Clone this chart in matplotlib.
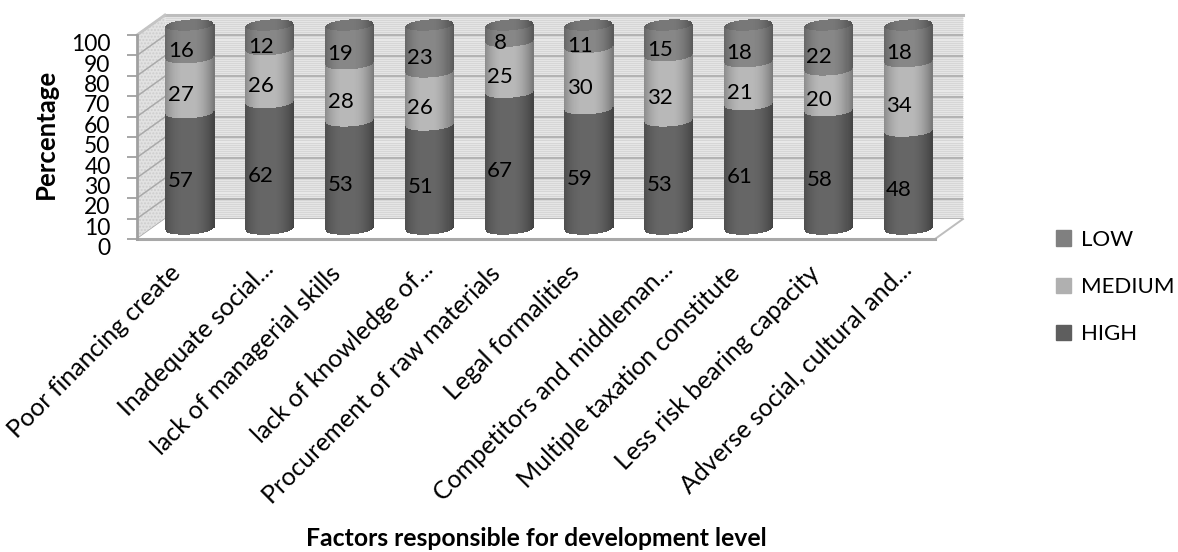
import numpy as np
import matplotlib
matplotlib.use("Agg")
import matplotlib.pyplot as plt
from matplotlib.patches import Patch, Polygon
from matplotlib.transforms import ScaledTranslation

plt.rcParams['font.family'] = ['Lato', 'DejaVu Sans']

categories = ["Poor financing create", "Inadequate social...", "lack of managerial skills",
              "lack of knowledge of...", "Procurement of raw materials", "Legal formalities",
              "Competitors and middleman...", "Multiple taxation constitute",
              "Less risk bearing capacity", "Adverse social, cultural and..."]
high = [57, 62, 53, 51, 67, 59, 53, 61, 58, 48]
medium = [27, 26, 28, 26, 25, 30, 32, 21, 20, 34]
low = [16, 12, 19, 23, 8, 11, 15, 18, 22, 18]
y_ticks = [0, 10, 20, 30, 40, 50, 60, 70, 80, 90, 100]

W, H = 1178, 552
fig = plt.figure(figsize=(W / 100, H / 100), dpi=100)
# axes box is the front plane of the 3D-looking chart
ax = fig.add_axes([137 / W, (H - 239) / H, (935 - 137) / W, (239 - 35) / H])
ax.set_xlim(-0.5, 9.5)
ax.set_ylim(0, 100)
ax.patch.set_alpha(0)
for s in ax.spines.values():
    s.set_visible(False)

# depth of the box, in axis units
dx = 0.35
dy = 9.8
x0, x1 = -0.5, 9.5

# back wall: fine stripes and gridlines
ax.add_patch(Polygon([(x0 + dx, dy), (x1 + dx, dy), (x1 + dx, 100 + dy), (x0 + dx, 100 + dy)],
                     fc='#ebebeb', ec='none', clip_on=False, zorder=1))
ax.hlines(np.arange(0.5, 100, 1.0) + dy, x0 + dx, x1 + dx, color='#d6d6d6', lw=0.9,
          clip_on=False, zorder=1.1)
ax.hlines(np.array(y_ticks) + dy, x0 + dx, x1 + dx, color='#ababab', lw=1.2,
          clip_on=False, zorder=1.2)
ax.plot([x0 + dx, x1 + dx], [100 + dy, 100 + dy], color='#bdbdbd', lw=2.2, clip_on=False, zorder=1.3)

# left wall with dotted fill, floor in white
ax.add_patch(Polygon([(x0, 0), (x0 + dx, dy), (x0 + dx, 100 + dy), (x0, 100)],
                     fc='#e2e2e2', ec='#cdcdcd', hatch='.....', lw=0, clip_on=False, zorder=1.4))
for v in y_ticks:
    ax.plot([x0, x0 + dx], [v, v + dy], color='#a9a9a9', lw=1.1, clip_on=False, zorder=1.5)
ax.plot([x0, x0 + dx], [100, 100 + dy], color='#c4c4c4', lw=2, clip_on=False, zorder=1.5)
ax.add_patch(Polygon([(x0, 0), (x1, 0), (x1 + dx, dy), (x0 + dx, dy)],
                     fc='white', ec='none', clip_on=False, zorder=1.6))
ax.plot([x1, x1 + dx], [0, dy], color='#bdbdbd', lw=1.4, clip_on=False, zorder=1.7)
ax.plot([x0, x1], [0, 0], color='#a8a8a8', lw=2.2, clip_on=False, zorder=1.8)
ax.plot([x0, x0], [0, 100], color='#a0a0a0', lw=2, clip_on=False, zorder=1.8)

# cylinders are built from thin stacked bar strips so they take a round shading
n_strips = 48
half_w = 0.30
ell = 2.7
tilt = 0.7
u = np.linspace(-1, 1, n_strips)
arc = np.sqrt(1 - u ** 2)
shade = 0.72 + 0.30 * (1 - np.abs(u + 0.08) ** 2.2)
strip_w = 2 * half_w / (n_strips - 1) * 1.3


def strip_colors(level):
    return [(level * s, level * s, level * s) for s in np.clip(shade, 0, 1)]


series = [(np.array(high), 0.40), (np.array(medium), 0.72), (np.array(low), 0.53)]
bottoms = np.zeros(len(categories))
centre = dx / 2 - 0.012
for vals, level in series:
    cols = strip_colors(level)
    for i in range(len(categories)):
        lower = bottoms[i] + dy / 2 - ell * arc + tilt * u
        ax.bar(i + centre + u * half_w, np.full(n_strips, vals[i]), strip_w, bottom=lower,
               color=cols, lw=0, clip_on=False, zorder=3)
    bottoms = bottoms + vals

# top caps
cols = strip_colors(0.47)
for i in range(len(categories)):
    ax.bar(i + centre + u * half_w, 2 * ell * arc, strip_w,
           bottom=bottoms[i] + dy / 2 - ell * arc + tilt * u,
           color=cols, lw=0, clip_on=False, zorder=3.1)

# value labels sit on the front plane
bottoms = np.zeros(len(categories))
for vals, _ in series:
    for i, v in enumerate(vals):
        ax.text(i + 0.05, bottoms[i] + v / 2, str(v), ha='center', va='center',
                fontsize=16, color='black', zorder=5)
    bottoms = bottoms + vals

ax.set_yticks(y_ticks)
ax.set_xticks(range(len(categories)))
ax.set_xticklabels(categories, rotation=45, ha='right', rotation_mode='anchor', fontsize=18)
ax.tick_params(axis='x', length=0, pad=16)
ax.tick_params(axis='y', length=7, width=1.3, color='#a0a0a0', pad=12, labelsize=16.5)
shift = ScaledTranslation(0, -5.5 / 72, fig.dpi_scale_trans)
for lab in ax.get_yticklabels():
    lab.set_transform(lab.get_transform() + shift)

# truncated labels run a little further up and to the right than the full ones
for lab in ax.get_xticklabels():
    if lab.get_text().endswith("..."):
        nudge = ScaledTranslation(5 / 100, 4 / 100, fig.dpi_scale_trans)
    else:
        nudge = ScaledTranslation(-8 / 100, 0, fig.dpi_scale_trans)
    lab.set_transform(lab.get_transform() + nudge)

fig.text(46 / W, 1 - 134 / H, "Percentage", rotation=90, fontweight='bold', fontsize=18.5,
         ha='center', va='center')
fig.text(536 / W, 1 - 538 / H, "Factors responsible for development level", fontweight='bold',
         fontsize=17.8, ha='center', va='center')

handles = [Patch(color='#808080', label='LOW'), Patch(color='#b0b0b0', label='MEDIUM'),
           Patch(color='#5e5e5e', label='HIGH')]
fig.legend(handles=handles, loc='center left', bbox_to_anchor=(1036 / W, 1 - 287 / H), frameon=False,
           fontsize=16, labelspacing=1.22, handlelength=0.68, handleheight=0.68, handletextpad=0.45)

fig.savefig('out.png', dpi=100)
